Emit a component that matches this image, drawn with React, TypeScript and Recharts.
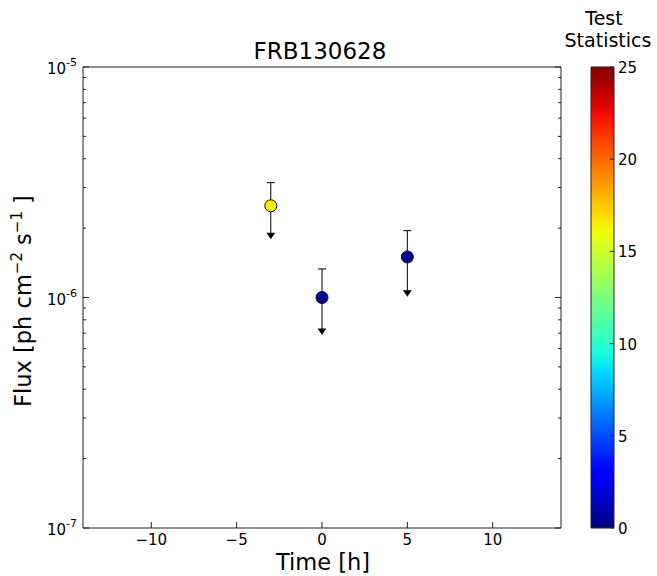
import React from "react";
import {
  ScatterChart, Scatter, XAxis, YAxis, ErrorBar, BarChart, Bar,
} from "recharts";

// FRB130628 flux upper limits
const times = [-3, 0, 5];
const flux = [2.5e-6, 1.0e-6, 1.5e-6];
const fluxUpper = [3.15e-6, 1.33e-6, 1.95e-6];
const fluxLimit = [1.9e-6, 7.3e-7, 1.07e-6];
const testStat = [16.5, 0.5, 0.4];

const xTicks = [-10, -5, 0, 5, 10];
const yMajor = [1e-7, 1e-6, 1e-5];
const yMinor = [2e-7, 3e-7, 4e-7, 5e-7, 6e-7, 7e-7, 8e-7, 9e-7, 2e-6, 3e-6, 4e-6, 5e-6, 6e-6, 7e-6, 8e-6, 9e-6];
const tsTicks = [0, 5, 10, 15, 20, 25];
const tsMax = 25;

const FONT = "DejaVu Sans, Bitstream Vera Sans, sans-serif";
const AX = "#222";
const TICK_FS = 15;

// matplotlib "jet"
function jet(v: number) {
  const seg = (pts: number[][]) => {
    for (let i = 1; i < pts.length; i++) {
      if (v <= pts[i][0]) {
        const [x0, y0] = pts[i - 1];
        const [x1, y1] = pts[i];
        return y0 + ((v - x0) / (x1 - x0)) * (y1 - y0);
      }
    }
    return pts[pts.length - 1][1];
  };
  const r = seg([[0, 0], [0.35, 0], [0.66, 1], [0.89, 1], [1, 0.5]]);
  const g = seg([[0, 0], [0.125, 0], [0.375, 1], [0.64, 1], [0.91, 0], [1, 0]]);
  const b = seg([[0, 0.5], [0.11, 1], [0.34, 1], [0.65, 0], [1, 0]]);
  const h = (c: number) => Math.round(Math.max(0, Math.min(1, c)) * 255);
  return `rgb(${h(r)},${h(g)},${h(b)})`;
}

const points = times.map((t, i) => ({
  t,
  f: flux[i],
  err: [flux[i] - fluxLimit[i], fluxUpper[i] - flux[i]],
  color: jet(testStat[i] / tsMax),
}));
const limits = times.map((t, i) => ({ t, f: fluxLimit[i] }));

const fmtX = (v: number) => (v < 0 ? `\u2212${-v}` : `${v}`);
const isMajor = (v: number) => yMajor.some((m) => Math.abs(m - v) / m < 1e-6);

const BottomTick = ({ x, y, payload }: any) => (
  <g>
    <line x1={x} x2={x} y1={y} y2={y - 6} stroke={AX} />
    <text x={x} y={y + 17} textAnchor="middle" fontSize={TICK_FS} fontFamily={FONT} fill="#000">
      {fmtX(payload.value)}
    </text>
  </g>
);

const TopTick = ({ x, y }: any) => <line x1={x} x2={x} y1={y} y2={y + 6} stroke={AX} />;

const LeftTick = ({ x, y, payload }: any) => {
  const major = isMajor(payload.value);
  const exp = Math.round(Math.log10(payload.value));
  return (
    <g>
      <line x1={x} x2={x + (major ? 6 : 3)} y1={y} y2={y} stroke={AX} />
      {major && (
        <text x={x - 6} y={y + 7} textAnchor="end" fontSize={TICK_FS} fontFamily={FONT} fill="#000">
          <tspan>10</tspan>
          <tspan dy={-8} fontSize={11}>{`${exp}`}</tspan>
        </text>
      )}
    </g>
  );
};

const RightTick = ({ x, y, payload }: any) => {
  const major = isMajor(payload.value);
  return <line x1={x} x2={x - (major ? 6 : 3)} y1={y} y2={y} stroke={AX} />;
};

const ColorTick = ({ x, y, payload }: any) => (
  <g>
    <line x1={x} x2={x - 4} y1={y} y2={y} stroke={AX} />
    <text x={x + 4} y={y + 6} textAnchor="start" fontSize={TICK_FS} fontFamily={FONT} fill="#000">
      {payload.value}
    </text>
  </g>
);

const Dot = ({ cx, cy, payload }: any) => (
  <circle cx={cx} cy={cy} r={6} fill={payload.color} stroke="#111" strokeWidth={1} />
);
const Nothing = () => <g />;
const Arrow = ({ cx, cy }: any) => (
  <polygon points={`${cx - 4},${cy} ${cx + 4},${cy} ${cx},${cy + 6}`} fill="#000" />
);

const gradStops = Array.from({ length: 51 }, (_, i) => i / 50);
const colorbar = [{ name: "ts", v: tsMax }];

export default function App() {
  return (
    <div style={{ position: "absolute", left: 0, top: 0, width: 657, height: 576, background: "#fff" }}>
      <div style={{ position: "absolute", left: 0, top: 0 }}>
        <ScatterChart width={657} height={576} margin={{ top: 57, right: 86, bottom: 18, left: 23 }}>
          <XAxis
            type="number"
            dataKey="t"
            domain={[-14, 14]}
            ticks={xTicks}
            interval={0}
            height={30}
            tickSize={0}
            tickMargin={0}
            tickLine={false}
            tick={<BottomTick />}
            axisLine={{ stroke: AX }}
            allowDataOverflow
          />
          <XAxis
            xAxisId="top"
            orientation="top"
            type="number"
            domain={[-14, 14]}
            ticks={xTicks}
            interval={0}
            height={10}
            tickSize={0}
            tickMargin={0}
            tickLine={false}
            tick={<TopTick />}
            axisLine={{ stroke: AX }}
            allowDataOverflow
          />
          <YAxis
            type="number"
            dataKey="f"
            scale="log"
            domain={[1e-7, 1e-5]}
            ticks={[...yMajor, ...yMinor]}
            interval={0}
            width={60}
            tickSize={0}
            tickMargin={0}
            tickLine={false}
            tick={<LeftTick />}
            axisLine={{ stroke: AX }}
            allowDataOverflow
          />
          <YAxis
            yAxisId="right"
            orientation="right"
            type="number"
            scale="log"
            domain={[1e-7, 1e-5]}
            ticks={[...yMajor, ...yMinor]}
            interval={0}
            width={10}
            tickSize={0}
            tickMargin={0}
            tickLine={false}
            tick={<RightTick />}
            axisLine={{ stroke: AX }}
            allowDataOverflow
          />
          <Scatter data={points} shape={<Dot />} isAnimationActive={false} />
          <Scatter data={points} shape={<Nothing />} isAnimationActive={false}>
            <ErrorBar dataKey="err" direction="y" width={4} stroke="#000" strokeWidth={1} />
          </Scatter>
          <Scatter data={limits} shape={<Arrow />} isAnimationActive={false} />
        </ScatterChart>
      </div>
      <div style={{ position: "absolute", left: 0, top: 0 }}>
        <BarChart
          width={657}
          height={576}
          data={colorbar}
          margin={{ top: 67, right: 13, bottom: 48, left: 591 }}
          barCategoryGap={0}
          barGap={0}
        >
          <defs>
            <linearGradient id="jetGrad" x1="0" y1="1" x2="0" y2="0">
              {gradStops.map((o) => (
                <stop key={o} offset={`${o * 100}%`} stopColor={jet(o)} />
              ))}
            </linearGradient>
          </defs>
          <XAxis dataKey="name" hide />
          <YAxis
            orientation="right"
            type="number"
            domain={[0, tsMax]}
            ticks={tsTicks}
            interval={0}
            width={30}
            tickSize={0}
            tickMargin={0}
            tickLine={false}
            axisLine={false}
            tick={<ColorTick />}
          />
          <Bar dataKey="v" fill="url(#jetGrad)" stroke={AX} strokeWidth={1} isAnimationActive={false} />
        </BarChart>
      </div>
      <svg width={657} height={576} style={{ position: "absolute", left: 0, top: 0, pointerEvents: "none" }}>
        <g fontFamily={FONT} fill="#000">
          <text x={320} y={59} textAnchor="middle" fontSize={23}>FRB130628</text>
          <text x={323} y={570} textAnchor="middle" fontSize={22.5}>Time [h]</text>
          <text transform="translate(31,301) rotate(-90)" textAnchor="middle" fontSize={22.5}>
            <tspan>Flux [ph cm</tspan>
            <tspan dy={-9} fontSize={15}>{"\u22122"}</tspan>
            <tspan dy={9}> s</tspan>
            <tspan dy={-9} fontSize={15}>{"\u22121"}</tspan>
            <tspan dy={9}> ]</tspan>
          </text>
          <text x={604} y={25} textAnchor="middle" fontSize={19}>Test</text>
          <text x={608} y={47} textAnchor="middle" fontSize={19}>Statistics</text>
        </g>
      </svg>
    </div>
  );
}
